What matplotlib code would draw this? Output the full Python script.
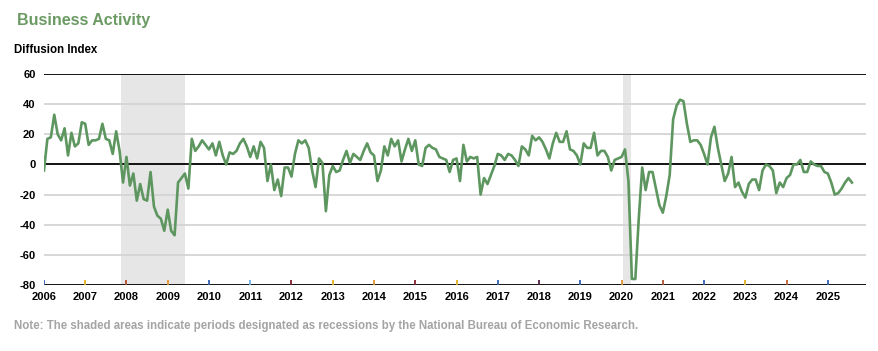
import matplotlib
matplotlib.use("Agg")
import matplotlib.pyplot as plt
import numpy as np
import pandas as pd

# monthly diffusion index, Jan 2006 .. Aug 2025
months = pd.date_range("2006-01-01", "2025-08-01", freq="MS")
activity = [
    -4, 17, 18, 33, 20, 16, 24, 6, 21, 12, 14, 28,          # 2006
    27, 13, 16, 16, 17, 27, 17, 16, 7, 22, 9, -12,          # 2007
    5, -14, -6, -24, -13, -23, -24, -5, -28, -34, -36, -44,  # 2008
    -30, -44, -47, -12, -9, -6, -16, 17, 9, 12, 16, 13,     # 2009
    10, 14, 6, 15, 6, 0, 8, 7, 9, 14, 17, 12,               # 2010
    5, 12, 4, 15, 11, -11, 0, -17, -10, -21, -2, -2,        # 2011
    -8, 7, 16, 14, 16, 11, -4, -15, 4, 1, -31, -7,          # 2012
    -1, -5, -4, 3, 9, 1, 7, 5, 3, 9, 14, 8,                 # 2013
    6, -11, -4, 12, 6, 17, 12, 16, 2, 10, 17, 9,            # 2014
    16, 0, -1, 11, 13, 11, 10, 5, 4, 3, -5, 3,              # 2015
    4, -11, 13, 2, 5, 4, 5, -20, -9, -13, -7, -1,           # 2016
    7, 6, 3, 7, 6, 3, -1, 12, 10, 6, 19, 16,                # 2017
    18, 15, 10, 4, 14, 21, 15, 15, 22, 10, 9, 6,            # 2018
    0, 14, 11, 11, 21, 6, 9, 9, 5, -4, 3, 4,                # 2019
    5, 10, -11, -76, -76, -36, -2, -17, -5, -5, -16, -27,   # 2020
    -32, -21, -7, 30, 39, 43, 42, 27, 15, 16, 16, 13,       # 2021
    7, 0, 18, 25, 11, 0, -11, -6, 5, -15, -12, -18,         # 2022
    -22, -13, -10, -10, -17, -4, 0, -1, -4, -19, -12, -15,  # 2023
    -9, -7, 0, 0, 3, -5, -5, 2, 0, -1, -1, -5,              # 2024
    -6, -12, -20, -19, -16, -12, -9, -12,                   # 2025
]

recessions = [(2007.87, 2009.42), (2020.03, 2020.22)]
years = list(range(2006, 2026))
y_ticks = [60, 40, 20, 0, -20, -40, -60, -80]
year_tick_colors = [
    "#3060b0", "#e0b020", "#b05030", "#e09030", "#3060b0",
    "#70b0e0", "#802030", "#e0b020", "#e09030", "#802030",
    "#e0b020", "#3060b0", "#502040", "#3060b0", "#e09030",
    "#b05030", "#3060b0", "#e0b020", "#c06030", "#3060b0",
]

FONT = ["Liberation Sans", "DejaVu Sans"]
GREEN = "#5e9660"

t = months.year + (months.month - 1) / 12.0

fig = plt.figure(figsize=(8.79, 3.51), dpi=100)
ax = fig.add_axes([0.050, 0.188, 0.935, 0.601])

for start, end in recessions:
    ax.axvspan(start, end, color="#e6e6e6", lw=0, zorder=0)

for v in y_ticks:
    if v in (60, 0, -80):
        ax.axhline(v, color="black", lw=1.3, zorder=2)
    else:
        ax.axhline(v, color="#d4d4d4", lw=1.3, zorder=1)

ax.vlines(years, -80, -76.8, colors=year_tick_colors, lw=1.3, zorder=3)

ax.plot(t, activity, color=GREEN, lw=1.9, zorder=4, solid_joinstyle="round")

ax.set_xlim(2006, 2025.92)
ax.set_ylim(-80, 60)
for s in ax.spines.values():
    s.set_visible(False)
ax.set_yticks(y_ticks)
ax.set_yticklabels([str(v) for v in y_ticks], family=FONT, fontsize=8, fontweight="bold")
ax.set_xticks(years)
ax.set_xticklabels([str(y) for y in years], family=FONT, fontsize=8, fontweight="bold")
ax.tick_params(axis="both", length=0)
ax.tick_params(axis="y", pad=6)
ax.tick_params(axis="x", pad=5)

fig.text(17 / 879, 1 - 20 / 351, "Business Activity", family=FONT, fontsize=11.5,
         fontweight="bold", color="#6b9b63", va="center", ha="left")
fig.text(14 / 879, 1 - 50 / 351, "Diffusion Index", family=FONT, fontsize=8.3,
         fontweight="bold", color="black", va="center", ha="left")
fig.text(14 / 879, 1 - 326 / 351,
         "Note: The shaded areas indicate periods designated as recessions by the National Bureau of Economic Research.",
         family=FONT, fontsize=8.3, fontweight="bold", color="#a4a4a4", va="center", ha="left")

fig.savefig("out.png", dpi=100)
